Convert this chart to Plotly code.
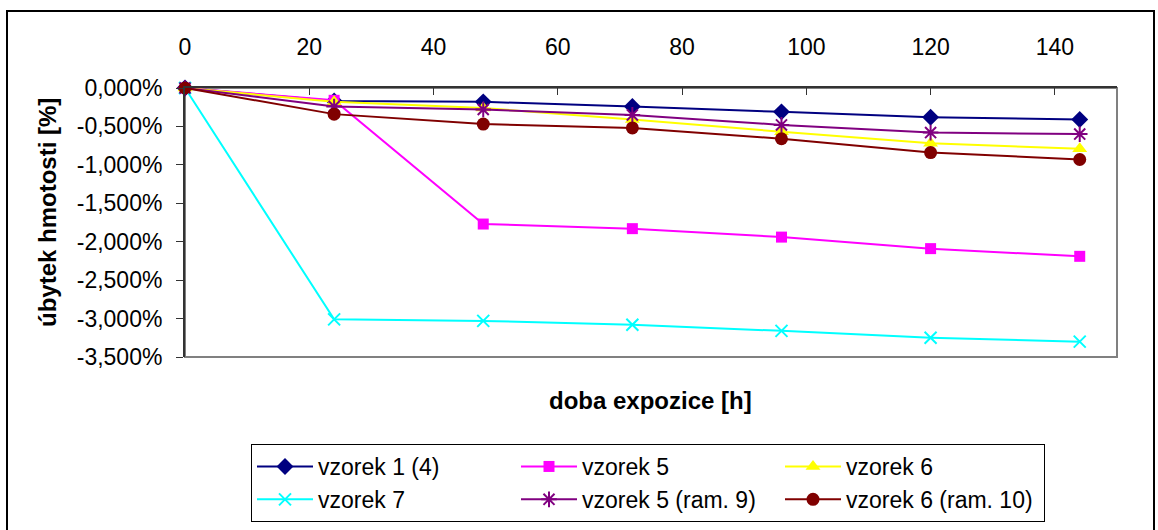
import plotly.graph_objects as go

# exposure time [h]
hours = [0, 24, 48, 72, 96, 120, 144]

# mass loss [%] for each sample
vzorek_1_4 = [0.0, -0.17, -0.18, -0.24, -0.31, -0.38, -0.41]
vzorek_5 = [0.0, -0.16, -1.77, -1.83, -1.94, -2.09, -2.19]
vzorek_6 = [0.0, -0.18, -0.26, -0.41, -0.57, -0.72, -0.79]
vzorek_7 = [0.0, -3.01, -3.03, -3.08, -3.16, -3.25, -3.30]
vzorek_5_ram9 = [0.0, -0.24, -0.28, -0.35, -0.48, -0.58, -0.60]
vzorek_6_ram10 = [0.0, -0.34, -0.47, -0.52, -0.66, -0.84, -0.93]

series_names = ["vzorek 1 (4)", "vzorek 5", "vzorek 6",
                "vzorek 7", "vzorek 5 (ram. 9)", "vzorek 6 (ram. 10)"]

x_ticks = [0, 20, 40, 60, 80, 100, 120, 140]
y_ticks = [0.0, -0.5, -1.0, -1.5, -2.0, -2.5, -3.0, -3.5]
y_tick_labels = ["0,000%", "-0,500%", "-1,000%", "-1,500%",
                 "-2,000%", "-2,500%", "-3,000%", "-3,500%"]

# page / plot-area geometry in pixels
W, H = 1158, 530
PL, PR, PT, PB = 185, 1117, 88, 357
FONT = "Liberation Sans"


def px_x(p):
    return (p - PL) / (PR - PL)


def px_y(p):
    return (PB - p) / (PB - PT)


styles = [
    dict(color="#000080", symbol="diamond", size=13, lw=0),
    dict(color="#FF00FF", symbol="square", size=11, lw=0),
    dict(color="#FFFF00", symbol="triangle-up", size=13, lw=0),
    dict(color="#00FFFF", symbol="x-thin-open", size=12, lw=2),
    dict(color="#800080", symbol="asterisk-open", size=13, lw=2),
    dict(color="#800000", symbol="circle", size=13, lw=0),
]
values = [vzorek_1_4, vzorek_5, vzorek_6, vzorek_7, vzorek_5_ram9, vzorek_6_ram10]

fig = go.Figure()
for name, ys, st in zip(series_names, values, styles):
    fig.add_trace(go.Scatter(
        x=hours, y=ys, name=name, mode="lines+markers",
        cliponaxis=False,
        line=dict(color=st["color"], width=2),
        marker=dict(symbol=st["symbol"], size=st["size"], color=st["color"],
                    line=dict(color=st["color"], width=st["lw"])),
    ))

fig.update_layout(
    width=W, height=H,
    margin=dict(l=PL, r=W - PR, t=PT, b=H - PB, autoexpand=False),
    paper_bgcolor="white", plot_bgcolor="white",
    font=dict(family=FONT, size=22, color="black"),
    showlegend=True,
    legend=dict(
        orientation="h", x=px_x(251), y=px_y(444), xanchor="left", yanchor="top",
        entrywidth=193, entrywidthmode="pixels",
        bordercolor="black", borderwidth=1, bgcolor="white",
        font=dict(family=FONT, size=23, color="black"),
        itemwidth=56, tracegroupgap=0,
    ),
    xaxis=dict(
        side="top", range=[0, 150], tickvals=x_ticks, ticks="inside",
        ticklen=7, tickcolor="#333333", showline=True, linecolor="#333333",
        linewidth=2, showgrid=False, zeroline=False, ticklabelstandoff=22,
        tickfont=dict(family=FONT, size=23),
    ),
    yaxis=dict(
        range=[-3.5, 0], tickvals=y_ticks, ticktext=y_tick_labels,
        ticks="outside", ticklen=7, tickcolor="#333333", showline=True,
        linecolor="#333333", linewidth=2, showgrid=False, zeroline=False,
        ticklabelstandoff=9, tickfont=dict(family=FONT, size=23),
    ),
    shapes=[
        # outer chart frame
        dict(type="rect", xref="paper", yref="paper",
             x0=px_x(7), x1=px_x(1154), y0=px_y(540), y1=px_y(11),
             line=dict(color="black", width=2), layer="below"),
        # plot area frame
        dict(type="rect", xref="paper", yref="paper",
             x0=0, x1=1, y0=0, y1=1,
             line=dict(color="#808080", width=2), layer="below"),
    ],
    annotations=[
        dict(text="<b>doba expozice [h]</b>", xref="paper", yref="paper",
             x=px_x(650), y=px_y(400), xanchor="center", yanchor="middle",
             showarrow=False, font=dict(family=FONT, size=24, color="black")),
        dict(text="<b>úbytek hmotosti [%]</b>", xref="paper", yref="paper",
             x=px_x(47), y=px_y(213), xanchor="center", yanchor="middle",
             showarrow=False, textangle=-90,
             font=dict(family=FONT, size=24, color="black")),
    ],
)

fig.write_html("out.html")
